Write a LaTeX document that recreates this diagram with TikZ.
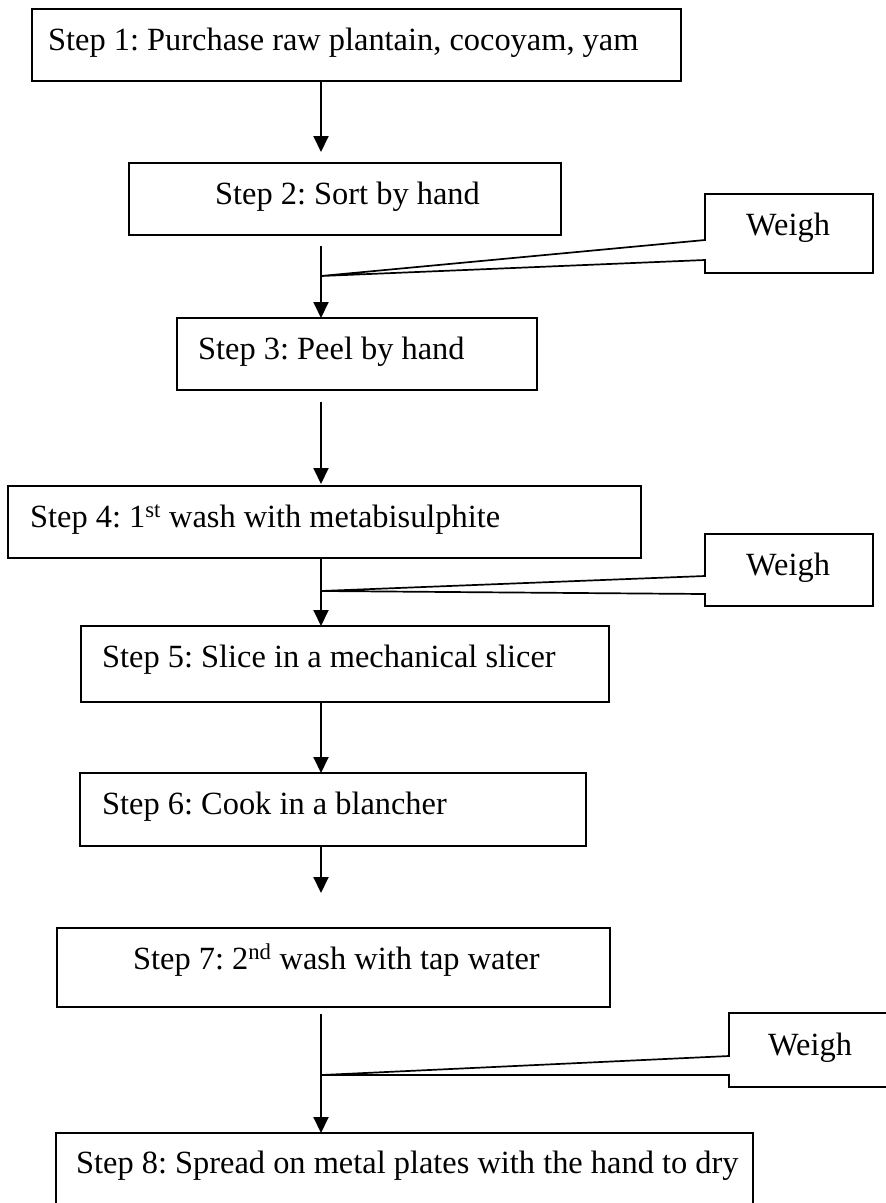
\documentclass[tikz,border=0pt]{standalone}
\usepackage{fontspec}
\setmainfont{Liberation Serif}
\usetikzlibrary{arrows.meta}
\frenchspacing

\tikzset{
  stepbox/.style={draw, line width=1.9pt, rectangle, inner sep=0pt, outer sep=0pt,
                  anchor=north west, fill=white},
  steptext/.style={anchor=base west, inner sep=0pt,
                   font=\fontsize{32.4}{39}\selectfont},
  callout/.style={draw, line width=1.7pt, fill=white, line join=miter},
  flow/.style={line width=1.9pt, -{Triangle[width=15pt,length=16pt]}},
}

\begin{document}
\begin{tikzpicture}[x=1pt, y=-1pt]
  \useasboundingbox (0,0) rectangle (886,1203);
  \fill[white] (0,0) rectangle (886,1203);

  % vertical axis of the process line
  \coordinate (ax) at (321,0);

  % process steps
  \node[stepbox, minimum width=649pt, minimum height=72pt] (b1) at (32,9) {};
  \node[steptext] (t1) at (48,50) {Step 1: Purchase raw plantain, cocoyam, yam};

  \node[stepbox, minimum width=432pt, minimum height=72pt] (b2) at (129,163) {};
  \node[steptext] (t2) at (215,204) {Step 2: Sort by hand};

  \node[stepbox, minimum width=360pt, minimum height=72pt] (b3) at (177,318) {};
  \node[steptext] (t3) at (198,359) {Step 3: Peel by hand};

  \node[stepbox, minimum width=633pt, minimum height=72pt] (b4) at (8,486) {};
  \node[steptext] (t4) at (30,527) {Step 4: 1\textsuperscript{st} wash with metabisulphite};

  \node[stepbox, minimum width=528pt, minimum height=76pt] (b5) at (81,626) {};
  \node[steptext] (t5) at (102,667) {Step 5: Slice in a mechanical slicer};

  \node[stepbox, minimum width=506pt, minimum height=73pt] (b6) at (80,773) {};
  \node[steptext] (t6) at (102,814) {Step 6: Cook in a blancher};

  \node[stepbox, minimum width=553pt, minimum height=79pt] (b7) at (57,928) {};
  \node[steptext] (t7) at (133,969) {Step 7: 2\textsuperscript{nd} wash with tap water};

  \node[stepbox, minimum width=697pt, minimum height=100pt] (b8) at (56,1133) {};
  \node[steptext] (t8) at (76,1173) {Step 8: Spread on metal plates with the hand to dry};

  % points where the weighing callouts meet the process line
  \coordinate (j1) at (321,276);
  \coordinate (j2) at (321,591);
  \coordinate (j3) at (322,1075);

  % weighing callouts
  \draw[callout] (705,194) -- (873,194) -- (873,273) -- (705,273) -- (705,260)
                 -- (j1) -- (705,240) -- cycle;
  \node[steptext] (w1) at (746,235) {Weigh};

  \draw[callout] (705,534) -- (873,534) -- (873,606) -- (705,606) -- (705,594)
                 -- (j2) -- (705,576) -- cycle;
  \node[steptext] (w2) at (746,575) {Weigh};

  \draw[callout] (729,1013) -- (895,1013) -- (895,1087) -- (729,1087) -- (729,1075)
                 -- (j3) -- (729,1056) -- cycle;
  \node[steptext] (w3) at (768,1055) {Weigh};

  % connectors between the steps
  \draw[flow, shorten >=11pt] (b1.south -| ax) -- (b2.north -| ax);
  \draw[flow, shorten <=11pt] (b2.south -| ax) -- (b3.north -| ax);
  \draw[flow, shorten <=12pt, shorten >=2pt] (b3.south -| ax) -- (b4.north -| ax);
  \draw[flow] (b4.south -| ax) -- (b5.north -| ax);
  \draw[flow] (b5.south -| ax) -- (b6.north -| ax);
  \draw[flow, shorten >=35pt] (b6.south -| ax) -- (b7.north -| ax);
  \draw[flow, shorten <=7pt] (b7.south -| ax) -- (b8.north -| ax);
\end{tikzpicture}
\end{document}
